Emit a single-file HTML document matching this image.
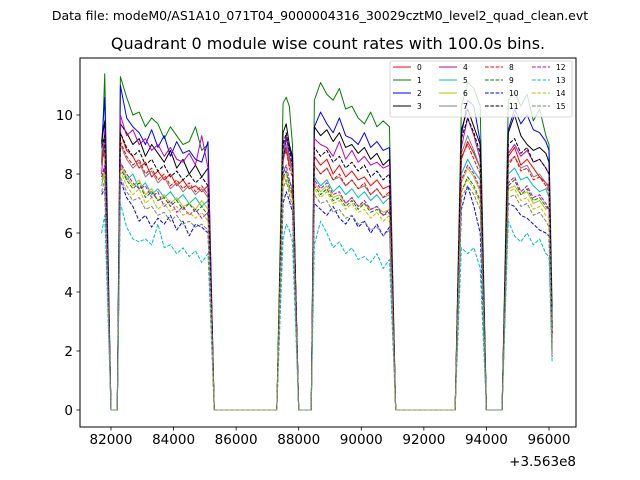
<!DOCTYPE html>
<html><head><meta charset="utf-8">
<style>
body{margin:0;background:#fff;}
svg{display:block;font-family:"DejaVu Sans","Liberation Sans",sans-serif;}
</style></head>
<body>
<svg id="chart" width="640" height="480" viewBox="0 0 640 480" xmlns="http://www.w3.org/2000/svg">
<rect x="0" y="0" width="640" height="480" fill="#fff"/>
<text x="320" y="20" font-size="12.5" text-anchor="middle">Data file: modeM0/AS1A10_071T04_9000004316_30029cztM0_level2_quad_clean.evt</text>
<text x="328" y="49" font-size="16" text-anchor="middle">Quadrant 0 module wise count rates with 100.0s bins.</text>
<g id="plot"></g>
<g id="axes"></g>
<g id="legend"></g>
</svg>
<script>
const times=[81700,81800,82000,82200,82300,82500,82700,82900,83100,83300,83500,83700,83900,84100,84300,84500,84700,84900,85100,85300,87300,87500,87600,87700,87800,88000,88400,88500,88700,88900,89100,89300,89500,89700,89900,90100,90300,90500,90700,90900,91100,93000,93200,93400,93600,93800,94000,94500,94700,94900,95100,95300,95500,95700,95900,96000,96100];
const s0=[8.5,9.0,0,0,9.4,8.8,8.6,8.2,8.4,7.9,8.1,7.8,8.0,7.6,7.8,7.5,7.6,7.4,7.6,0,0,8.6,8.9,8.3,8.1,0,0,8.6,8.3,8.5,8.0,8.3,7.9,8.1,7.8,7.9,7.6,7.8,7.5,7.6,0,0,8.5,9.1,8.7,8.2,0,0,8.6,8.9,8.3,8.5,8.2,7.9,7.7,7.6,2.5];
const s1=[8.3,11.4,0,0,11.3,10.6,10.0,10.1,9.6,9.9,9.7,9.2,9.6,9.3,9.0,9.1,9.6,8.8,9.0,0,0,10.4,10.6,10.3,9.0,0,0,10.5,11.1,10.7,10.5,10.9,10.2,10.3,9.9,9.7,10.1,9.6,9.8,9.6,0,0,10.3,11.1,10.9,10.3,0,0,10.5,10.8,10.3,10.7,9.8,10.2,9.3,9.0,3.5];
const s2=[9.0,10.6,0,0,11.0,9.9,9.6,9.4,9.0,9.5,8.9,9.3,8.6,9.1,8.7,8.8,8.5,8.4,9.1,0,0,8.4,9.2,8.9,8.5,0,0,9.6,10.1,9.7,9.4,9.9,9.3,9.2,9.0,9.4,8.9,9.1,8.8,8.9,0,0,9.3,10.5,10.3,9.1,0,0,9.5,10.2,9.7,10.0,9.5,9.4,9.1,8.8,2.8];
const s3=[9.1,9.8,0,0,9.7,9.4,9.0,9.2,8.6,9.0,8.7,8.4,8.8,8.2,8.5,8.0,8.3,7.9,8.2,0,0,9.4,9.7,9.0,8.6,0,0,9.6,9.3,9.5,9.1,9.4,8.9,9.0,8.7,8.9,8.5,8.7,8.3,8.5,0,0,9.5,10.2,9.6,9.0,0,0,9.4,10.0,9.3,9.0,8.8,8.9,8.7,8.4,2.9];
const s4=[8.0,9.5,0,0,10.0,9.3,9.5,9.0,9.2,8.8,9.0,8.6,8.9,8.5,8.4,8.7,8.3,9.3,8.2,0,0,8.8,9.3,8.6,8.2,0,0,9.2,9.0,8.9,8.6,9.1,8.5,8.8,8.4,8.6,8.3,8.4,8.2,8.3,0,0,8.9,9.9,9.3,8.5,0,0,8.7,9.0,8.6,8.8,8.4,8.5,8.2,8.0,2.6];
const s5=[7.6,8.2,0,0,8.4,7.8,8.0,7.5,7.7,7.3,7.5,7.2,7.4,7.1,7.3,7.0,7.2,6.9,7.1,0,0,8.3,8.0,7.8,7.5,0,0,7.9,7.6,7.8,7.4,7.6,7.3,7.5,7.2,7.4,7.1,7.3,7.0,7.2,0,0,8.0,8.5,8.1,7.8,0,0,8.0,8.2,7.8,7.9,7.6,7.4,7.5,7.2,2.2];
const s6=[7.8,8.1,0,0,8.3,7.9,7.6,7.8,7.3,7.5,7.1,7.3,7.0,7.2,6.9,7.0,6.8,7.1,6.8,0,0,8.0,7.7,7.5,7.2,0,0,7.7,7.4,7.6,7.2,7.3,7.0,7.2,6.9,7.0,6.8,6.9,6.7,6.8,0,0,7.7,8.2,7.9,7.4,0,0,7.5,7.6,7.3,7.4,7.0,7.1,6.8,6.9,2.0];
const s7=[8.3,8.9,0,0,9.0,8.5,8.2,8.4,7.9,8.1,7.7,7.9,7.5,7.7,7.4,7.6,7.3,7.5,7.2,0,0,8.8,9.0,8.5,8.0,0,0,8.3,8.0,8.2,7.8,7.9,7.6,7.8,7.5,7.6,7.3,7.5,7.2,7.3,0,0,8.7,9.3,8.8,8.2,0,0,8.4,8.6,8.2,8.3,7.9,8.0,7.7,7.5,2.4];
const s8=[8.4,8.8,0,0,9.1,8.6,8.3,8.5,8.0,8.2,7.8,8.0,7.6,7.8,7.5,7.7,7.4,7.6,7.3,0,0,8.5,8.8,8.2,7.9,0,0,8.3,8.0,8.2,7.8,8.0,7.6,7.8,7.5,7.7,7.3,7.5,7.2,7.4,0,0,8.6,9.0,8.5,8.0,0,0,8.3,8.6,8.1,8.2,7.8,7.9,7.6,7.4,2.3];
const s9=[7.9,8.2,0,0,8.2,7.8,7.5,7.7,7.2,7.4,7.1,7.2,6.9,7.1,6.8,7.0,6.7,6.9,6.6,0,0,7.9,8.1,7.6,7.3,0,0,7.6,7.3,7.5,7.1,7.2,6.9,7.1,6.8,7.0,6.7,6.8,6.6,6.7,0,0,7.4,7.9,7.6,7.1,0,0,7.6,7.8,7.3,7.5,7.1,7.2,6.9,6.8,2.0];
const s10=[7.3,7.5,0,0,7.8,7.2,6.9,6.4,6.6,6.2,6.5,6.3,6.6,6.1,6.4,5.9,6.3,6.2,6.0,0,0,7.0,7.4,7.1,6.7,0,0,7.0,6.8,6.6,6.9,6.5,6.3,6.6,6.2,6.4,6.0,6.3,5.9,6.2,0,0,6.8,7.6,6.9,6.0,0,0,7.0,6.9,6.6,6.5,6.3,6.1,6.0,5.9,1.8];
const s11=[8.9,9.3,0,0,9.4,8.9,8.6,8.8,8.3,8.5,8.1,8.3,7.9,8.1,7.8,8.0,7.7,7.9,7.6,0,0,9.0,9.4,8.8,8.3,0,0,8.9,8.6,8.8,8.4,8.6,8.2,8.4,8.1,8.3,7.9,8.1,7.8,8.0,0,0,9.2,9.9,9.4,8.7,0,0,9.0,9.2,8.7,8.9,8.4,8.5,8.2,8.0,2.6];
const s12=[7.9,8.3,0,0,8.4,8.0,7.7,7.5,7.6,7.2,7.4,6.9,7.1,6.7,6.9,6.6,6.8,6.5,6.7,0,0,8.0,8.3,7.8,7.4,0,0,7.8,7.5,7.7,7.3,7.4,7.0,7.2,6.9,7.1,6.8,6.9,6.6,6.8,0,0,7.8,8.3,8.0,7.5,0,0,7.7,7.9,7.4,7.6,7.2,7.3,7.0,6.8,2.1];
const s13=[6.0,6.6,0,0,7.0,6.2,5.8,5.7,5.8,5.6,6.3,5.5,5.6,5.3,5.5,5.2,5.4,5.0,5.3,0,0,5.8,6.3,6.1,5.7,0,0,5.6,6.4,6.0,5.5,5.7,5.3,5.5,5.1,5.2,5.0,5.3,4.8,5.1,0,0,5.5,5.3,5.5,4.8,0,0,6.4,5.9,5.7,6.0,5.6,5.8,5.3,5.2,1.6];
const s14=[7.6,8.0,0,0,8.1,7.6,7.3,7.5,7.0,7.2,6.8,7.0,6.7,6.9,6.6,6.7,6.5,6.7,6.4,0,0,7.8,8.0,7.5,7.1,0,0,7.5,7.2,7.4,7.0,7.1,6.8,7.0,6.7,6.8,6.5,6.7,6.4,6.6,0,0,7.4,7.8,7.5,7.0,0,0,7.4,7.5,7.1,7.2,6.8,6.9,6.6,6.5,1.9];
const s15=[7.4,7.8,0,0,7.9,7.4,7.1,7.2,6.8,6.9,6.6,6.7,6.4,6.6,6.3,6.4,6.2,6.3,6.1,0,0,7.5,7.8,7.3,6.9,0,0,7.3,7.0,7.1,6.7,6.8,6.5,6.6,6.3,6.4,6.1,6.2,5.9,6.1,0,0,7.2,7.6,7.3,6.8,0,0,7.2,7.3,6.9,7.0,6.6,6.7,6.4,6.2,1.8];
const seriesNames=["0","1","2","3","4","5","6","7","8","9","10","11","12","13","14","15"];
const xTicks=[82000,84000,86000,88000,90000,92000,94000,96000];
const yTicks=[0,2,4,6,8,10];
const allSeries=[s0,s1,s2,s3,s4,s5,s6,s7,s8,s9,s10,s11,s12,s13,s14,s15];
const colors=["#ff0000","#008000","#0000ff","#000000","#bf00bf","#00bfbf","#bfbf00","#808080"];
const NS="http://www.w3.org/2000/svg";
const L=80,R=576,T=58,B=427;
function xs(t){return 111+(t-82000)*(438/14000);}
function ys(v){return 410-v*29.5;}
const plot=document.getElementById('plot');
const axes=document.getElementById('axes');
const legend=document.getElementById('legend');
function mk(tag,attrs,parent){const e=document.createElementNS(NS,tag);for(const k in attrs)e.setAttribute(k,attrs[k]);parent.appendChild(e);return e;}
// series
allSeries.forEach((vals,i)=>{
  const pts=vals.map((v,j)=>xs(times[j]).toFixed(2)+','+ys(v).toFixed(2)).join(' ');
  const p=mk('polyline',{points:pts,fill:'none',stroke:colors[i%8],'stroke-width':1,'stroke-linejoin':'round'},plot);
  if(i>=8)p.setAttribute('stroke-dasharray','3.7,1.6');
  
  
});
// axes frame
const fr=mk('rect',{x:L,y:T,width:R-L,height:B-T,fill:'none',stroke:'#000','stroke-width':1},axes);


xTicks.forEach(t=>{
  const x=xs(t);
  const tk=mk('line',{x1:x,y1:B,x2:x,y2:B+3.5,stroke:'#000','stroke-width':0.8},axes);
  
  
  const tx=mk('text',{x:x,y:B+17,'font-size':13.5,'text-anchor':'middle'},axes);
  tx.textContent=t;
  
  
});
yTicks.forEach(v=>{
  const y=ys(v);
  const tk=mk('line',{x1:L-3.5,y1:y,x2:L,y2:y,stroke:'#000','stroke-width':0.8},axes);
  
  
  const tx=mk('text',{x:L-7,y:y+5,'font-size':13.5,'text-anchor':'end'},axes);
  tx.textContent=v;
  
  
});
const off=mk('text',{x:576,y:466,'font-size':13.5,'text-anchor':'end'},axes);
off.textContent='+3.563e8';


// legend
const lb=mk('rect',{x:390,y:61,width:182,height:56,rx:2,fill:'#fff','fill-opacity':0.8,stroke:'#cccccc','stroke-width':0.8},legend);


const colX=[393,439,485,532],rowY=[67,80,93,106];
seriesNames.forEach((n,i)=>{
  const c=Math.floor(i/4),r=i%4;
  const ln=mk('line',{x1:colX[c],y1:rowY[r],x2:colX[c]+18,y2:rowY[r],stroke:colors[i%8],'stroke-width':1},legend);
  if(i>=8)ln.setAttribute('stroke-dasharray','3.7,1.6');
  
  
  const tx=mk('text',{x:colX[c]+24,y:rowY[r]+3,'font-size':7.5},legend);
  tx.textContent=n;
  
  
});
</script>
</body></html>
